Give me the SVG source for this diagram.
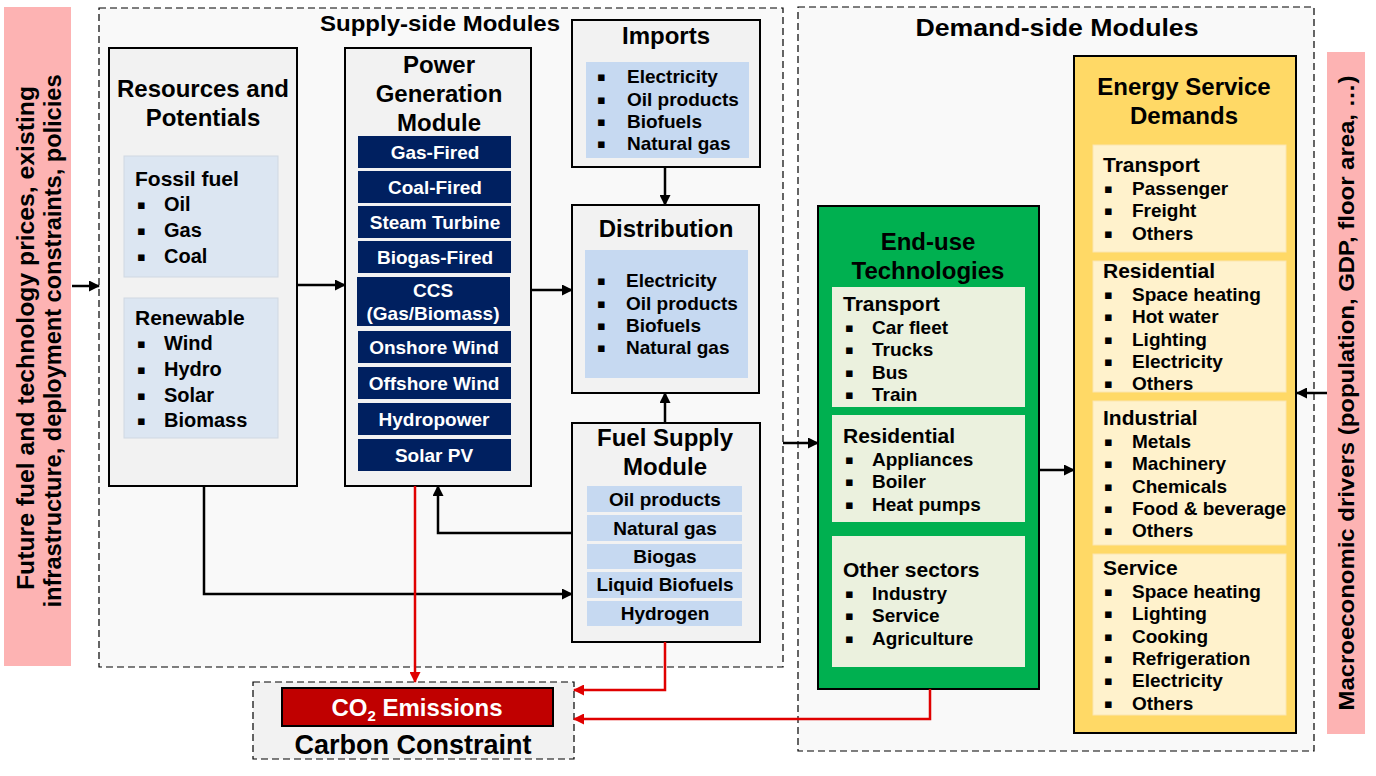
<svg xmlns="http://www.w3.org/2000/svg" width="1376" height="776" viewBox="0 0 1376 776">
<style>
text{font-family:"Liberation Sans",Arial,sans-serif;font-weight:bold;fill:#000}
.h{font-size:24px;text-anchor:middle}
.i{font-size:19px}
.s{font-size:21px}
.r{font-size:20px}
.w{font-size:19px;fill:#fff;text-anchor:middle}
.f{font-size:19px;text-anchor:middle}
.b{font-family:"DejaVu Sans",sans-serif;font-size:13px}
.box{fill:#f2f2f2;stroke:#000;stroke-width:2}
.dash{fill:#f9f9f9;stroke:#000;stroke-width:1.2;stroke-dasharray:7 4}
.lb{fill:#dce6f2;stroke:#d0d8e2;stroke-width:1}
.mb{fill:#c6d9f1}
.nv{fill:#002060}
.gs{fill:#ebf1de}
.ys{fill:#fff2cc;stroke:#fbe6b0;stroke-width:1}
.pk{fill:#fdb3b3}
.k{fill:none;stroke:#000;stroke-width:2.5}
.rd{fill:none;stroke:#e00000;stroke-width:2.5}
</style>
<defs>
<marker id="ak" markerUnits="userSpaceOnUse" markerWidth="11" markerHeight="11" refX="10" refY="5.5" orient="auto"><path d="M0,0 L11,5.5 L0,11 z" fill="#000"/></marker>
<marker id="ar" markerUnits="userSpaceOnUse" markerWidth="11" markerHeight="11" refX="10" refY="5.5" orient="auto"><path d="M0,0 L11,5.5 L0,11 z" fill="#e00000"/></marker>
</defs>
<rect width="1376" height="776" fill="#fff"/>

<g id="left-drivers">
<rect class="pk" x="4" y="7" width="67" height="659"/>
<text transform="translate(34,338) rotate(-90)" style="font-size:23px;text-anchor:middle" textLength="504" lengthAdjust="spacingAndGlyphs">Future fuel and technology prices, existing</text>
<text transform="translate(61,341) rotate(-90)" style="font-size:23px;text-anchor:middle" textLength="533" lengthAdjust="spacingAndGlyphs">infrastructure, deployment constraints, policies</text>
</g>

<g id="right-drivers">
<rect class="pk" x="1327" y="52" width="38" height="682"/>
<text transform="translate(1354,393) rotate(-90)" style="font-size:22px;text-anchor:middle" textLength="635" lengthAdjust="spacingAndGlyphs">Macroeconomic drivers (population, GDP, floor area, …)</text>
</g>

<g id="supply-side">
<rect class="dash" x="99" y="8" width="684" height="659"/>
<text x="440" y="31" style="font-size:22px;text-anchor:middle" textLength="240" lengthAdjust="spacingAndGlyphs">Supply-side Modules</text>
</g>

<g id="demand-side">
<rect class="dash" x="798" y="7" width="516" height="744"/>
<text x="1057" y="36" style="font-size:24px;text-anchor:middle" textLength="283" lengthAdjust="spacingAndGlyphs">Demand-side Modules</text>
</g>

<g id="resources">
<rect class="box" x="109" y="48" width="188" height="438"/>
<text class="h" x="203" y="97">Resources and</text>
<text class="h" x="203" y="126">Potentials</text>
<rect class="lb" x="124" y="156" width="154" height="121"/>
<text class="s" x="135" y="186">Fossil fuel</text>
<text class="b" x="137" y="209">▪</text><text class="r" x="164" y="211">Oil</text>
<text class="b" x="137" y="235">▪</text><text class="r" x="164" y="237">Gas</text>
<text class="b" x="137" y="261">▪</text><text class="r" x="164" y="263">Coal</text>
<rect class="lb" x="124" y="298" width="154" height="140"/>
<text class="s" x="135" y="325">Renewable</text>
<text class="b" x="137" y="348">▪</text><text class="r" x="164" y="350">Wind</text>
<text class="b" x="137" y="374">▪</text><text class="r" x="164" y="376">Hydro</text>
<text class="b" x="137" y="400">▪</text><text class="r" x="164" y="402">Solar</text>
<text class="b" x="137" y="425">▪</text><text class="r" x="164" y="427">Biomass</text>
</g>

<g id="power-generation">
<rect class="box" x="345" y="48" width="186" height="438"/>
<text class="h" x="439" y="73">Power</text>
<text class="h" x="439" y="102">Generation</text>
<text class="h" x="439" y="131">Module</text>
<rect class="nv" x="358" y="136" width="153" height="32"/><text class="w" x="435" y="159">Gas-Fired</text>
<rect class="nv" x="358" y="171" width="153" height="32"/><text class="w" x="435" y="194">Coal-Fired</text>
<rect class="nv" x="358" y="206" width="153" height="32"/><text class="w" x="435" y="229">Steam Turbine</text>
<rect class="nv" x="358" y="241" width="153" height="32"/><text class="w" x="435" y="264">Biogas-Fired</text>
<rect class="nv" x="357" y="277" width="153" height="49"/><text class="w" x="433" y="297">CCS</text><text class="w" x="433" y="320">(Gas/Biomass)</text>
<rect class="nv" x="358" y="331" width="153" height="32"/><text class="w" x="434" y="354">Onshore Wind</text>
<rect class="nv" x="358" y="367" width="153" height="32"/><text class="w" x="434" y="390">Offshore Wind</text>
<rect class="nv" x="358" y="403" width="153" height="32"/><text class="w" x="434" y="426">Hydropower</text>
<rect class="nv" x="358" y="439" width="153" height="32"/><text class="w" x="434" y="462">Solar PV</text>
</g>

<g id="imports">
<rect class="box" x="572" y="20" width="188" height="147"/>
<text class="h" x="666" y="44">Imports</text>
<rect class="mb" x="586" y="62" width="163" height="96"/>
<text class="b" x="597" y="81">▪</text><text class="i" x="627" y="83">Electricity</text>
<text class="b" x="597" y="104">▪</text><text class="i" x="627" y="106">Oil products</text>
<text class="b" x="597" y="126">▪</text><text class="i" x="627" y="128">Biofuels</text>
<text class="b" x="597" y="148">▪</text><text class="i" x="627" y="150">Natural gas</text>
</g>

<g id="distribution">
<rect class="box" x="572" y="205" width="187" height="188"/>
<text class="h" x="666" y="237">Distribution</text>
<rect class="mb" x="585" y="250" width="163" height="128"/>
<text class="b" x="597" y="285">▪</text><text class="i" x="626" y="287">Electricity</text>
<text class="b" x="597" y="308">▪</text><text class="i" x="626" y="310">Oil products</text>
<text class="b" x="597" y="330">▪</text><text class="i" x="626" y="332">Biofuels</text>
<text class="b" x="597" y="352">▪</text><text class="i" x="626" y="354">Natural gas</text>
</g>

<g id="fuel-supply">
<rect class="box" x="572" y="423" width="188" height="219"/>
<text class="h" x="665" y="446">Fuel Supply</text>
<text class="h" x="665" y="475">Module</text>
<rect class="mb" x="587" y="486" width="155" height="26"/><text class="f" x="665" y="506">Oil products</text>
<rect class="mb" x="587" y="515" width="155" height="26"/><text class="f" x="665" y="535">Natural gas</text>
<rect class="mb" x="587" y="544" width="155" height="25"/><text class="f" x="665" y="563">Biogas</text>
<rect class="mb" x="587" y="572" width="155" height="26"/><text class="f" x="665" y="591">Liquid Biofuels</text>
<rect class="mb" x="587" y="601" width="155" height="25"/><text class="f" x="665" y="620">Hydrogen</text>
</g>

<g id="carbon-constraint">
<rect x="253" y="682" width="321" height="77" fill="#f2f2f2" stroke="#000" stroke-width="1.2" stroke-dasharray="7 4"/>
<rect x="282" y="688" width="271" height="38" fill="#c00000" stroke="#000" stroke-width="2"/>
<text x="417" y="716" style="font-size:24px;fill:#fff;text-anchor:middle">CO<tspan style="font-size:15px;fill:#fff" dy="5">2</tspan><tspan style="fill:#fff" dy="-5"> Emissions</tspan></text>
<text x="413" y="754" style="font-size:27px;text-anchor:middle">Carbon Constraint</text>
</g>

<g id="end-use">
<rect x="818" y="206" width="221" height="483" fill="#00b050" stroke="#000" stroke-width="2"/>
<text class="h" x="928" y="250">End-use</text>
<text class="h" x="928" y="279">Technologies</text>
<rect class="gs" x="832" y="287" width="193" height="120"/>
<text class="s" x="843" y="311">Transport</text>
<text class="b" x="845" y="332">▪</text><text class="i" x="872" y="334">Car fleet</text>
<text class="b" x="845" y="354">▪</text><text class="i" x="872" y="356">Trucks</text>
<text class="b" x="845" y="377">▪</text><text class="i" x="872" y="379">Bus</text>
<text class="b" x="845" y="399">▪</text><text class="i" x="872" y="401">Train</text>
<rect class="gs" x="832" y="415" width="193" height="107"/>
<text class="s" x="843" y="443">Residential</text>
<text class="b" x="845" y="464">▪</text><text class="i" x="872" y="466">Appliances</text>
<text class="b" x="845" y="486">▪</text><text class="i" x="872" y="488">Boiler</text>
<text class="b" x="845" y="509">▪</text><text class="i" x="872" y="511">Heat pumps</text>
<rect class="gs" x="832" y="536" width="193" height="131"/>
<text class="s" x="843" y="577">Other sectors</text>
<text class="b" x="845" y="598">▪</text><text class="i" x="872" y="600">Industry</text>
<text class="b" x="845" y="620">▪</text><text class="i" x="872" y="622">Service</text>
<text class="b" x="845" y="643">▪</text><text class="i" x="872" y="645">Agriculture</text>
</g>

<g id="energy-service-demands">
<rect x="1074" y="56" width="222" height="677" fill="#ffd966" stroke="#000" stroke-width="2"/>
<text class="h" x="1184" y="95">Energy Service</text>
<text class="h" x="1184" y="124">Demands</text>
<rect class="ys" x="1093" y="145" width="193" height="107"/>
<text class="s" x="1103" y="172">Transport</text>
<text class="b" x="1104" y="193">▪</text><text class="i" x="1132" y="195">Passenger</text>
<text class="b" x="1104" y="215">▪</text><text class="i" x="1132" y="217">Freight</text>
<text class="b" x="1104" y="238">▪</text><text class="i" x="1132" y="240">Others</text>
<rect class="ys" x="1093" y="261" width="193" height="131"/>
<text class="s" x="1103" y="278">Residential</text>
<text class="b" x="1104" y="299">▪</text><text class="i" x="1132" y="301">Space heating</text>
<text class="b" x="1104" y="321">▪</text><text class="i" x="1132" y="323">Hot water</text>
<text class="b" x="1104" y="344">▪</text><text class="i" x="1132" y="346">Lighting</text>
<text class="b" x="1104" y="366">▪</text><text class="i" x="1132" y="368">Electricity</text>
<text class="b" x="1104" y="388">▪</text><text class="i" x="1132" y="390">Others</text>
<rect class="ys" x="1093" y="401" width="193" height="144"/>
<text class="s" x="1103" y="425">Industrial</text>
<text class="b" x="1104" y="446">▪</text><text class="i" x="1132" y="448">Metals</text>
<text class="b" x="1104" y="468">▪</text><text class="i" x="1132" y="470">Machinery</text>
<text class="b" x="1104" y="491">▪</text><text class="i" x="1132" y="493">Chemicals</text>
<text class="b" x="1104" y="513">▪</text><text class="i" x="1132" y="515">Food &amp; beverage</text>
<text class="b" x="1104" y="535">▪</text><text class="i" x="1132" y="537">Others</text>
<rect class="ys" x="1093" y="554" width="193" height="161"/>
<text class="s" x="1103" y="575">Service</text>
<text class="b" x="1104" y="596">▪</text><text class="i" x="1132" y="598">Space heating</text>
<text class="b" x="1104" y="618">▪</text><text class="i" x="1132" y="620">Lighting</text>
<text class="b" x="1104" y="641">▪</text><text class="i" x="1132" y="643">Cooking</text>
<text class="b" x="1104" y="663">▪</text><text class="i" x="1132" y="665">Refrigeration</text>
<text class="b" x="1104" y="685">▪</text><text class="i" x="1132" y="687">Electricity</text>
<text class="b" x="1104" y="708">▪</text><text class="i" x="1132" y="710">Others</text>
</g>

<g id="connectors">
<path class="k" d="M72,286 H99" marker-end="url(#ak)"/>
<path class="k" d="M297,285 H345" marker-end="url(#ak)"/>
<path class="k" d="M532,290 H572" marker-end="url(#ak)"/>
<path class="k" d="M665,167 V205" marker-end="url(#ak)"/>
<path class="k" d="M665,423 V393" marker-end="url(#ak)"/>
<path class="k" d="M572,533 H438 V486" marker-end="url(#ak)"/>
<path class="k" d="M204,486 V594 H572" marker-end="url(#ak)"/>
<path class="k" d="M783,443 H818" marker-end="url(#ak)"/>
<path class="k" d="M1039,470 H1074" marker-end="url(#ak)"/>
<path class="k" d="M1327,393 H1297" marker-end="url(#ak)"/>
<path class="rd" d="M415,486 V682" marker-end="url(#ar)"/>
<path class="rd" d="M665,642 V690 H574" marker-end="url(#ar)"/>
<path class="rd" d="M930,689 V719 H574" marker-end="url(#ar)"/>
</g>
</svg>
